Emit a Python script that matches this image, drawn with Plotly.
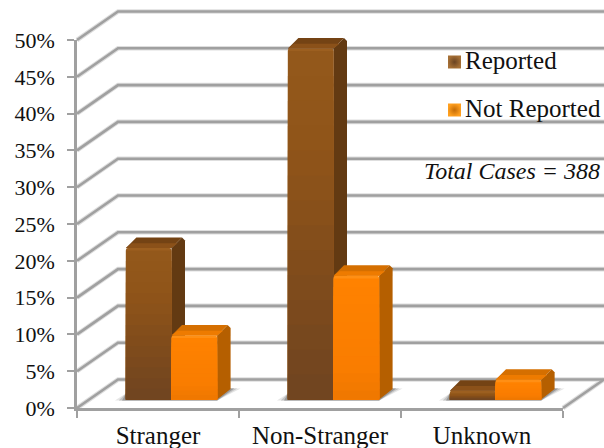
import plotly.graph_objects as go

categories = ["Stranger", "Non-Stranger", "Unknown"]
reported = [20.6, 47.7, 1.2]
not_reported = [8.7, 16.8, 2.7]
pct_ticks = list(range(0, 55, 5))
total_label = "Total Cases = 388"

W, H = 604, 448
AXIS_X0, AXIS_X1 = 77, 563      # pixel extent of the category axis
AXIS_Y0, AXIS_Y1 = 408, 40      # pixel extent of the percent axis
PX_CAT = (AXIS_X1 - AXIS_X0) / 3
PX_PCT = (AXIS_Y0 - AXIS_Y1) / 50

# Oblique projection of the floor and of the columns, in data units
WALL_DX, WALL_DY = 41 / PX_CAT, 28.5 / PX_PCT
LIFT_DX, LIFT_DY = 13.5 / PX_CAT, 8.5 / PX_PCT
COL_DX, COL_DY = 13.5 / PX_CAT, 10.5 / PX_PCT
BAR_W = 45.6 / PX_CAT
GRID = "#a0a0a0"
GRID_SOFT = "#dedede"
SERIF = "Liberation Serif, Times New Roman, serif"
INK = "#111111"

STYLE = {
    "Reported": dict(ramp=[(0.0, "#6f4420"), (0.3, "#7d4a1c"), (0.7, "#8f5419"), (1.0, "#94581b")],
                     side="#633a12", top_back="#744314", top_front="#8b5119", bevel="#9c5f20"),
    "Not Reported": dict(ramp=[(0.0, "#ee7700"), (0.25, "#f97d00"), (1.0, "#ff8200")],
                         side="#b55f00", top_back="#d56f00", top_front="#ee7b00", bevel="#ff8f14"),
}


def hex_mix(c1, c2, t):
    a = [int(c1[i:i + 2], 16) for i in (1, 3, 5)]
    b = [int(c2[i:i + 2], 16) for i in (1, 3, 5)]
    return "#" + "".join(f"{round(p + (q - p) * t):02x}" for p, q in zip(a, b))


def ramp_colour(ramp, t):
    for (t0, c0), (t1, c1) in zip(ramp, ramp[1:]):
        if t <= t1:
            return hex_mix(c0, c1, (t - t0) / (t1 - t0))
    return ramp[-1][1]


def data_x(px):
    return (px - AXIS_X0) / PX_CAT - 0.5


def data_y(px):
    return (AXIS_Y0 - px) / PX_PCT


def poly(xs, ys, colour, axes="x2"):
    yaxis = {"x": "y", "x2": "y2"}[axes]
    return go.Scatter(x=xs, y=ys, mode="lines", fill="toself", fillcolor=colour,
                      line=dict(width=0, color=colour), hoverinfo="skip",
                      showlegend=False, xaxis=axes, yaxis=yaxis)


fig = go.Figure()

# Back wall and side wall: every percent level folds from the axis to the wall
left, right = -0.5, 2.5
for colour, width in ((GRID_SOFT, 4.6), (GRID, 2.6)):
    for level in pct_ticks:
        fig.add_trace(go.Scatter(
            x=[left, left + WALL_DX, right + WALL_DX],
            y=[level, level + WALL_DY, level + WALL_DY],
            mode="lines", line=dict(color=colour, width=width), hoverinfo="skip", showlegend=False))
    # Right edge of the floor
    fig.add_trace(go.Scatter(x=[right, right + WALL_DX], y=[0, WALL_DY], mode="lines",
                             line=dict(color=colour, width=width), hoverinfo="skip", showlegend=False))

# Soft floor shadow around each pair of columns
for i in range(3):
    x0 = i - BAR_W + LIFT_DX
    x1 = i + BAR_W + LIFT_DX
    for grow, shade in ((1.0, "#e6e6e6"), (0.65, "#c4c4c4"), (0.35, "#989898")):
        ex = grow * 11 / PX_CAT
        fig.add_trace(poly(
            [x0 - ex, x1 + 0.0, x1 + COL_DX + grow * 10 / PX_CAT, x1 + COL_DX, x0 + 0.0],
            [LIFT_DY - 0.12, LIFT_DY - 0.12, LIFT_DY + COL_DY * 1.05, LIFT_DY + COL_DY * 1.05, LIFT_DY + 0.8],
            shade, axes="x"))

# Column sides and tops, left series first so the right one overlaps it
series = [("Reported", reported, -1), ("Not Reported", not_reported, 0)]
for name, values, slot in series:
    st = STYLE[name]
    for i, v in enumerate(values):
        x0 = i + slot * BAR_W + LIFT_DX
        x1 = x0 + BAR_W
        yb = LIFT_DY
        yt = yb + v
        cut_x, cut_y = 3 / PX_CAT, 3 / PX_PCT
        fig.add_trace(poly(
            [x1, x1 + COL_DX, x1 + COL_DX, x1 + COL_DX - cut_x, x1],
            [yb, yb + COL_DY, yt + COL_DY - cut_y, yt + COL_DY, yt],
            st["side"]))
        fig.add_trace(poly(
            [x0, x0 + COL_DX - cut_x, x0 + COL_DX + cut_x, x1 + COL_DX - cut_x, x1],
            [yt, yt + COL_DY, yt + COL_DY, yt + COL_DY, yt],
            st["top_back"]))
        fig.add_trace(poly(
            [x0, x0 + COL_DX * 0.45, x1 + COL_DX * 0.45, x1],
            [yt, yt + COL_DY * 0.45, yt + COL_DY * 0.45, yt],
            st["top_front"]))

# Column fronts: nested bars, tallest first, build the vertical shading without seams
STEPS = 14
for name, values, slot in series:
    st = STYLE[name]
    xs = [i + (slot + 0.5) * BAR_W + LIFT_DX for i in range(3)]
    fig.add_trace(go.Bar(x=xs, y=values, base=[LIFT_DY] * 3, width=BAR_W,
                         marker=dict(color=st["bevel"], line=dict(width=0), cornerradius=2),
                         xaxis="x3", yaxis="y3", showlegend=False, hoverinfo="skip", cliponaxis=False))
    for k in range(STEPS, 0, -1):
        frac = k / STEPS
        fig.add_trace(go.Bar(
            x=xs, y=[max(v - 0.35, 0.2) * frac for v in values], base=[LIFT_DY] * 3, width=BAR_W,
            marker=dict(color=ramp_colour(st["ramp"], frac - 0.5 / STEPS), line=dict(width=0)),
            xaxis="x3", yaxis="y3", showlegend=False, hoverinfo="skip", cliponaxis=False))

# Legend keys and labels
key_rows = [("Reported", 62, "#a56f35", "#6a4322"), ("Not Reported", 110, "#ff9f1e", "#c56c06")]
annotations = []
for name, py, inner, outer in key_rows:
    fig.add_trace(go.Scatter(
        x=[data_x(454.5)], y=[data_y(py)], mode="markers", hoverinfo="skip",
        marker=dict(symbol="square", size=13, color=inner, line=dict(width=0),
                    gradient=dict(type="radial", color=outer)),
        showlegend=False, xaxis="x2", yaxis="y2"))
    annotations.append(dict(text=name, xref="x", yref="y", xanchor="left", yanchor="middle",
                            x=data_x(463), y=data_y(py - 2), showarrow=False,
                            font=dict(family=SERIF, size=25, color=INK)))
annotations.append(dict(text=f"<i>{total_label}</i>", xref="x", yref="y", xanchor="right",
                        yanchor="middle", x=data_x(602), y=data_y(171), showarrow=False,
                        font=dict(family=SERIF, size=24, color=INK)))

canvas_x = [data_x(0), data_x(W)]
canvas_y = [data_y(H), data_y(0)]
hidden = dict(visible=False, fixedrange=True, domain=[0, 1], automargin=False)

fig.update_layout(
    width=W, height=H, autosize=False, margin=dict(l=0, r=0, t=0, b=0),
    paper_bgcolor="white", plot_bgcolor="rgba(0,0,0,0)", showlegend=False,
    barmode="overlay", annotations=annotations,
    xaxis=dict(range=canvas_x, **hidden),
    yaxis=dict(range=canvas_y, **hidden),
    xaxis2=dict(range=canvas_x, anchor="y2", **hidden),
    yaxis2=dict(range=canvas_y, anchor="x2", **hidden),
    xaxis3=dict(domain=[AXIS_X0 / W, AXIS_X1 / W], range=[left, right], anchor="y3",
                automargin=False, tickmode="array", tickvals=[0, 1, 2],
                ticktext=categories, ticks="", showgrid=False, zeroline=False,
                showline=True, linecolor=GRID, linewidth=2.6, ticklabelstandoff=3,
                tickfont=dict(family=SERIF, size=25, color=INK), fixedrange=True,
                minor=dict(tickmode="array", tickvals=[-0.5, 0.5, 1.5, 2.5], ticks="outside",
                           ticklen=7, tickwidth=2, tickcolor=GRID, showgrid=False)),
    yaxis3=dict(domain=[(H - AXIS_Y0) / H, (H - AXIS_Y1) / H], range=[0, 50], anchor="x3",
                automargin=False, tickmode="array", tickvals=pct_ticks,
                ticktext=[f"{p}%" for p in pct_ticks], ticks="outside", ticklen=7, tickwidth=2,
                tickcolor=GRID, showgrid=False, zeroline=False, showline=True, linecolor=GRID,
                linewidth=2.6, tickfont=dict(family=SERIF, size=22, color=INK),
                ticklabelstandoff=8, fixedrange=True),
)

fig.write_html("out.html", config={"displayModeBar": False})
